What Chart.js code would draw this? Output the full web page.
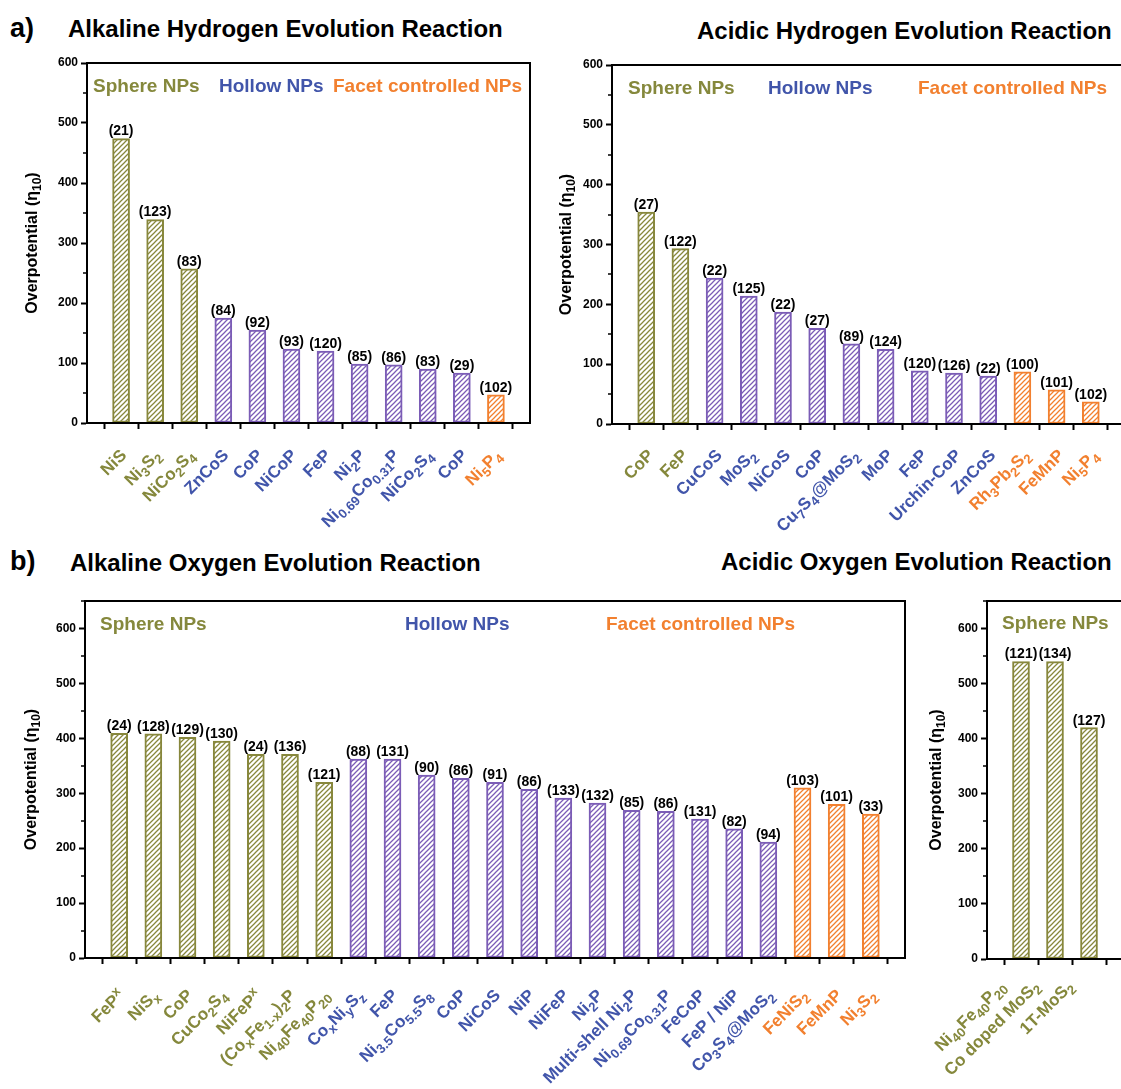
<!DOCTYPE html>
<html>
<head>
<meta charset="utf-8">
<script src="https://cdn.jsdelivr.net/npm/chart.js"></script>
<style>
  body { margin: 0; width: 1121px; height: 1089px; overflow: hidden; background: #fff; position: relative;
         font-family: "Liberation Sans", Arial, sans-serif; }
  canvas { position: absolute; }
  .ttl { position: absolute; font-weight: bold; color: #000; white-space: nowrap; line-height: 1; }
</style>
</head>
<body>
<div class="ttl" style="left:10px;top:15px;font-size:27px">a)</div>
<div class="ttl" style="left:68px;top:17px;font-size:24px">Alkaline Hydrogen Evolution Reaction</div>
<div class="ttl" style="left:697px;top:19px;font-size:24px">Acidic Hydrogen Evolution Reaction</div>
<div class="ttl" style="left:10px;top:548px;font-size:27px">b)</div>
<div class="ttl" style="left:70px;top:551px;font-size:24px">Alkaline Oxygen Evolution Reaction</div>
<div class="ttl" style="left:721px;top:550px;font-size:24px">Acidic Oxygen Evolution Reaction</div>

<canvas id="c1" width="545" height="510" style="left:0;top:42px"></canvas>
<canvas id="c2" width="600" height="510" style="left:548px;top:42px"></canvas>
<canvas id="c3" width="915" height="511" style="left:0;top:578px"></canvas>
<canvas id="c4" width="260" height="511" style="left:918px;top:578px"></canvas>

<script>
// ---- data ----
// group codes: s = sphere NPs, h = hollow NPs, f = facet controlled NPs
const alkHerNames = ['NiS', 'Ni_3S_2', 'NiCo_2S_4', 'ZnCoS', 'CoP', 'NiCoP', 'FeP', 'Ni_2P',
  'Ni_{0.69}Co_{0.31}P', 'NiCo_2S_4', 'CoP', 'Ni_5P_4'];
const alkHerValues = [474, 339, 257, 175, 155, 123, 120, 98, 97, 90, 83, 47];
const alkHerRefs = [21, 123, 83, 84, 92, 93, 120, 85, 86, 83, 29, 102];
const alkHerGroups = ['s', 's', 's', 'h', 'h', 'h', 'h', 'h', 'h', 'h', 'h', 'f'];

const acHerNames = ['CoP', 'FeP', 'CuCoS', 'MoS_2', 'NiCoS', 'CoP', 'Cu_7S_4@MoS_2', 'MoP', 'FeP',
  'Urchin-CoP', 'ZnCoS', 'Rh_3Pb_2S_2', 'FeMnP', 'Ni_5P_4'];
const acHerValues = [354, 293, 244, 214, 187, 160, 134, 125, 89, 85, 80, 87, 57, 37];
const acHerRefs = [27, 122, 22, 125, 22, 27, 89, 124, 120, 126, 22, 100, 101, 102];
const acHerGroups = ['s', 's', 'h', 'h', 'h', 'h', 'h', 'h', 'h', 'h', 'h', 'f', 'f', 'f'];

const alkOerNames = ['FeP^x', 'NiS_x', 'CoP', 'CuCo_2S_4', 'NiFeP^x', '(Co_xFe_{1-x})_2P', 'Ni_{40}Fe_{40}P_{20}',
  'Co_xNi_yS_z', 'FeP', 'Ni_{3.5}Co_{5.5}S_8', 'CoP', 'NiCoS', 'NiP', 'NiFeP', 'Ni_2P', 'Multi-shell Ni_2P',
  'Ni_{0.69}Co_{0.31}P', 'FeCoP', 'FeP / NiP', 'Co_3S_4@MoS_2', 'FeNiS_2', 'FeMnP', 'Ni_3S_2'];
const alkOerValues = [409, 408, 402, 395, 371, 371, 320, 362, 362, 333, 327, 320, 307, 291, 282, 269, 267,
  253, 235, 211, 310, 280, 262];
const alkOerRefs = [24, 128, 129, 130, 24, 136, 121, 88, 131, 90, 86, 91, 86, 133, 132, 85, 86, 131, 82, 94,
  103, 101, 33];
const alkOerGroups = ['s', 's', 's', 's', 's', 's', 's', 'h', 'h', 'h', 'h', 'h', 'h', 'h', 'h', 'h', 'h',
  'h', 'h', 'h', 'f', 'f', 'f'];

const acOerNames = ['Ni_{40}Fe_{40}P_{20}', 'Co doped MoS_2', '1T-MoS_2'];
const acOerValues = [540, 540, 420];
const acOerRefs = [121, 134, 127];
const acOerGroups = ['s', 's', 's'];

const yRangeHer = [0, 600];
const yRangeOer = [0, 650];
const yTitle = 'Overpotential (η_{10})';

// ---- styling ----
const FONT = '"Liberation Sans", Arial, sans-serif';
Chart.defaults.font.family = FONT;
const barColor = { s: '#87873c', h: '#7b5cb6', f: '#f2802f' };
const textColor = { s: '#85883c', h: '#4155aa', f: '#f2802f' };

function hatch(color) {
  const s = 5;
  const c = document.createElement('canvas');
  c.width = s; c.height = s;
  const g = c.getContext('2d');
  g.fillStyle = '#fff';
  g.fillRect(0, 0, s, s);
  g.strokeStyle = color;
  g.lineWidth = 1.25;
  g.beginPath();
  g.moveTo(0, s); g.lineTo(s, 0);
  g.moveTo(-1, 1); g.lineTo(1, -1);
  g.moveTo(s - 1, s + 1); g.lineTo(s + 1, s - 1);
  g.stroke();
  return g.createPattern(c, 'repeat');
}
const patterns = { s: hatch(barColor.s), h: hatch(barColor.h), f: hatch(barColor.f) };

// tiny markup: _x or _{..} subscript, ^x or ^{..} superscript
function parseRich(str) {
  const segs = [];
  let i = 0;
  while (i < str.length) {
    const ch = str[i];
    if (ch === '_' || ch === '^') {
      let t;
      if (str[i + 1] === '{') {
        const j = str.indexOf('}', i);
        t = str.slice(i + 2, j);
        i = j + 1;
      } else {
        t = str[i + 1];
        i += 2;
      }
      segs.push({ t: t, mode: ch === '_' ? 1 : 2 });
    } else {
      let j = i;
      while (j < str.length && str[j] !== '_' && str[j] !== '^') j++;
      segs.push({ t: str.slice(i, j), mode: 0 });
      i = j;
    }
  }
  return segs;
}

// draws at (0,0) with the given alignment, vertically centred on the cap height
function drawRich(ctx, str, size, align) {
  const segs = parseRich(str);
  const small = Math.round(size * 0.74);
  let total = 0;
  segs.forEach(s => {
    ctx.font = 'bold ' + (s.mode ? small : size) + 'px ' + FONT;
    s.w = ctx.measureText(s.t).width;
    total += s.w;
  });
  let x = align === 'center' ? -total / 2 : -total;
  const base = size * 0.36;
  ctx.textAlign = 'left';
  ctx.textBaseline = 'alphabetic';
  segs.forEach(s => {
    ctx.font = 'bold ' + (s.mode ? small : size) + 'px ' + FONT;
    let y = base;
    if (s.mode === 1) y += size * 0.26;
    if (s.mode === 2) y -= size * 0.36;
    ctx.fillText(s.t, x, y);
    x += s.w;
  });
}

const extras = {
  id: 'extras',
  afterDraw(chart) {
    const o = chart.options.plugins.extras;
    const ctx = chart.ctx;
    const a = chart.chartArea;
    const xs = chart.scales.x;
    const ys = chart.scales.y;
    ctx.save();
    // closed frame
    ctx.strokeStyle = '#000';
    ctx.lineWidth = 2;
    ctx.strokeRect(a.left, a.top, a.right - a.left, a.bottom - a.top);
    // minor y ticks
    ctx.lineWidth = 1.5;
    ys.ticks.forEach(t => {
      if (t.value % 100 !== 0) {
        const y = Math.round(ys.getPixelForValue(t.value));
        ctx.beginPath();
        ctx.moveTo(a.left - 4, y);
        ctx.lineTo(a.left, y);
        ctx.stroke();
      }
    });
    // y axis title
    ctx.save();
    ctx.translate(o.titleX, (a.top + a.bottom) / 2);
    ctx.rotate(-Math.PI / 2);
    ctx.fillStyle = '#000';
    drawRich(ctx, yTitle, 16, 'center');
    ctx.restore();
    // reference numbers over the bars
    const meta = chart.getDatasetMeta(0);
    ctx.fillStyle = '#000';
    ctx.font = 'bold 14px ' + FONT;
    ctx.textAlign = 'center';
    ctx.textBaseline = 'bottom';
    o.refs.forEach((r, i) => {
      const bar = meta.data[i + 1];
      ctx.fillText('(' + r + ')', bar.x, bar.y);
    });
    // group tags
    ctx.font = 'bold 19px ' + FONT;
    ctx.textAlign = 'left';
    ctx.textBaseline = 'middle';
    o.tags.forEach(t => {
      ctx.fillStyle = textColor[t.g];
      ctx.fillText(t.text, a.left + t.dx, a.top + o.tagDy);
    });
    // rotated category labels
    o.names.forEach((n, i) => {
      const x = xs.getPixelForValue(i + 1);
      ctx.save();
      ctx.translate(x + o.lx, a.bottom + o.ly);
      ctx.rotate(-Math.PI / 4);
      ctx.fillStyle = textColor[o.groups[i]];
      drawRich(ctx, n, 17, 'right');
      ctx.restore();
    });
    ctx.restore();
  }
};

function makeChart(id, names, values, refs, groups, yRange, box, tags, tagDy) {
  const labels = [''].concat(names, new Array(box.tail).fill(''));
  const data = [null].concat(values, new Array(box.tail).fill(null));
  return new Chart(document.getElementById(id), {
    type: 'bar',
    data: {
      labels: labels,
      datasets: [{
        data: data,
        backgroundColor: c => patterns[groups[c.dataIndex - 1]] || 'rgba(0,0,0,0)',
        borderColor: c => barColor[groups[c.dataIndex - 1]] || 'rgba(0,0,0,0)',
        borderWidth: 2,
        borderSkipped: false,
        barThickness: 17
      }]
    },
    options: {
      responsive: false,
      animation: false,
      layout: { padding: { top: box.top, right: box.right, left: 0, bottom: 0 } },
      plugins: {
        legend: { display: false },
        tooltip: { enabled: false },
        extras: {
          names: names, refs: refs, groups: groups, tags: tags, tagDy: tagDy,
          titleX: box.tx, lx: box.lx, ly: box.ly
        }
      },
      scales: {
        x: {
          type: 'category',
          offset: false,
          grid: { drawOnChartArea: false, drawTicks: true, tickLength: 6, tickWidth: 2, tickColor: '#000' },
          border: { color: '#000', width: 2 },
          ticks: { display: false },
          afterFit: s => { s.height = box.xh; }
        },
        y: {
          min: yRange[0],
          max: yRange[1],
          grid: {
            drawOnChartArea: false, drawTicks: true, tickLength: 6, tickWidth: 2,
            tickColor: c => (c.tick && c.tick.value % 100 !== 0) ? 'rgba(0,0,0,0)' : '#000'
          },
          border: { color: '#000', width: 2 },
          ticks: {
            stepSize: 50,
            autoSkip: false,
            padding: 3,
            color: '#000',
            font: { size: 12, weight: 'bold' },
            callback: v => (v % 100 === 0 ? v : '')
          },
          afterFit: s => { s.width = box.yw; }
        }
      }
    },
    plugins: [extras]
  });
}

makeChart('c1', alkHerNames, alkHerValues, alkHerRefs, alkHerGroups, yRangeHer,
  { top: 21, right: 15, xh: 129, yw: 87, tx: 31, tail: 1, lx: 2, ly: 29 },
  [{ text: 'Sphere NPs', g: 's', dx: 6 }, { text: 'Hollow NPs', g: 'h', dx: 132 },
   { text: 'Facet controlled NPs', g: 'f', dx: 246 }], 24);

makeChart('c2', acHerNames, acHerValues, acHerRefs, acHerGroups, yRangeHer,
  { top: 23, right: 23, xh: 128, yw: 64, tx: 17, tail: 1, lx: 4, ly: 28 },
  [{ text: 'Sphere NPs', g: 's', dx: 16 }, { text: 'Hollow NPs', g: 'h', dx: 156 },
   { text: 'Facet controlled NPs', g: 'f', dx: 306 }], 24);

makeChart('c3', alkOerNames, alkOerValues, alkOerRefs, alkOerGroups, yRangeOer,
  { top: 23, right: 10, xh: 131, yw: 85, tx: 30, tail: 1, lx: 2, ly: 34 },
  [{ text: 'Sphere NPs', g: 's', dx: 15 }, { text: 'Hollow NPs', g: 'h', dx: 320 },
   { text: 'Facet controlled NPs', g: 'f', dx: 521 }], 24);

makeChart('c4', acOerNames, acOerValues, acOerRefs, acOerGroups, yRangeOer,
  { top: 23, right: 21, xh: 130, yw: 69, tx: 17, tail: 2, lx: -19, ly: 24 },
  [{ text: 'Sphere NPs', g: 's', dx: 15 }], 23);
</script>
</body>
</html>
